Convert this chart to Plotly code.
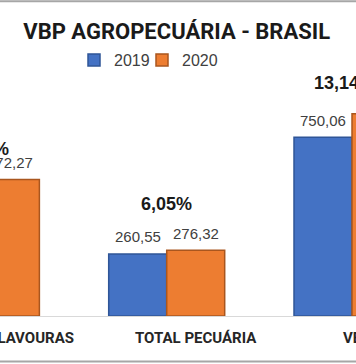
import plotly.graph_objects as go

# ---- data ----
categories = ["TOTAL LAVOURAS", "TOTAL PECUÁRIA", "VBP TOTAL"]
series_names = ["2019", "2020"]
values_2019 = [489.51, 260.55, 750.06]
values_2020 = [572.27, 276.32, 848.59]
pct_labels = ["16,91%", "6,05%", "13,14%"]

# ---- styling / layout configuration ----
W, H = 356, 364
X_RANGE = [0.1004, 2.0216]
Y_RANGE = [0, 990]
M_T, M_B = 80, 47.5
BAR_W = 0.313
pct_yshift = [31, 46, 31]
pct_xshift = [-3, 0, -7]
label_shift_px = 29.6
colors = ["#4472C4", "#ED7D31"]
edge_colors = ["#2F5597", "#A9561E"]
legend_ids = ["legend", "legend2"]
legend_x_px = [74, 142]
BOLDF = "Roboto, Liberation Sans, Arial, sans-serif"
REG = "Liberation Sans, Arial, sans-serif"


def to_paper(xv):
    return (xv - X_RANGE[0]) / (X_RANGE[1] - X_RANGE[0])


def fmt(v):
    return f"{v:.2f}".replace(".", ",")


fig = go.Figure()
for name, vals, c, ec, lg in zip(series_names, [values_2019, values_2020], colors,
                                 edge_colors, legend_ids):
    fig.add_trace(go.Bar(
        name=name, x=categories, y=vals, width=BAR_W, legend=lg,
        marker=dict(color=c, line=dict(color=ec, width=1.5)),
        hoverinfo="x+y",
    ))

ann = []
offsets = [-BAR_W / 2, BAR_W / 2]
for s, vals in enumerate([values_2019, values_2020]):
    for i, v in enumerate(vals):
        ann.append(dict(
            x=to_paper(i + offsets[s]), xref="paper", y=v, yref="y",
            text=fmt(v), showarrow=False, yshift=17,
            xanchor="center", yanchor="middle",
            font=dict(family=REG, size=15, color="#404040"),
        ))
for i, t in enumerate(pct_labels):
    top = max(values_2019[i], values_2020[i])
    ann.append(dict(
        x=to_paper(i), xref="paper", y=top, yref="y", text=f"<b>{t}</b>",
        showarrow=False, yshift=pct_yshift[i], xshift=pct_xshift[i],
        xanchor="center", yanchor="middle",
        font=dict(family=REG, size=18, color="#1a1a1a"),
    ))
ph = H - M_B - M_T
for i, cat in enumerate(categories):
    ann.append(dict(
        x=to_paper(i), xref="paper", xshift=label_shift_px,
        y=-(339 - (H - M_B)) / ph, yref="paper",
        text=f"<b>{cat}</b>", showarrow=False, xanchor="center", yanchor="middle",
        font=dict(family=BOLDF, size=15, color="#262626"),
    ))

shapes = [
    dict(type="line", xref="paper", yref="paper", x0=0, x1=1,
         y0=1 + (M_T - 1) / ph, y1=1 + (M_T - 1) / ph,
         line=dict(color="#A6A6A6", width=2)),
    dict(type="line", xref="paper", yref="paper", x0=0, x1=1,
         y0=-(362 - (H - M_B)) / ph, y1=-(362 - (H - M_B)) / ph,
         line=dict(color="#A6A6A6", width=2)),
]

legend_common = dict(orientation="h", xanchor="left",
                     y=1 + (M_T - 60) / ph, yanchor="middle",
                     font=dict(family=REG, size=16, color="#404040"),
                     bgcolor="rgba(0,0,0,0)", itemwidth=30, tracegroupgap=0)

fig.update_layout(
    width=W, height=H,
    margin=dict(l=0, r=0, t=M_T, b=M_B, pad=0),
    paper_bgcolor="white", plot_bgcolor="white",
    barmode="group", bargap=0.374, bargroupgap=0,
    title=dict(text="<b>VBP AGROPECUÁRIA - BRASIL</b>", xref="container", yref="container",
               x=176.7 / W, y=1 - 31 / H, xanchor="center", yanchor="middle",
               font=dict(family=BOLDF, size=22, color="#1a1a1a")),
    legend=dict(x=legend_x_px[0] / W, **legend_common),
    legend2=dict(x=legend_x_px[1] / W, **legend_common),
    xaxis=dict(range=X_RANGE, showticklabels=False, showgrid=False, zeroline=False,
               showline=True, linecolor="#D9D9D9", linewidth=1, ticks="", fixedrange=True),
    yaxis=dict(range=Y_RANGE, visible=False, showgrid=False, zeroline=False, fixedrange=True),
    annotations=ann, shapes=shapes,
    showlegend=True,
)

fig.write_html(
    "out.html",
    config={"displayModeBar": False},
    post_script="document.body.style.margin='0px';document.body.style.overflow='hidden';",
)
